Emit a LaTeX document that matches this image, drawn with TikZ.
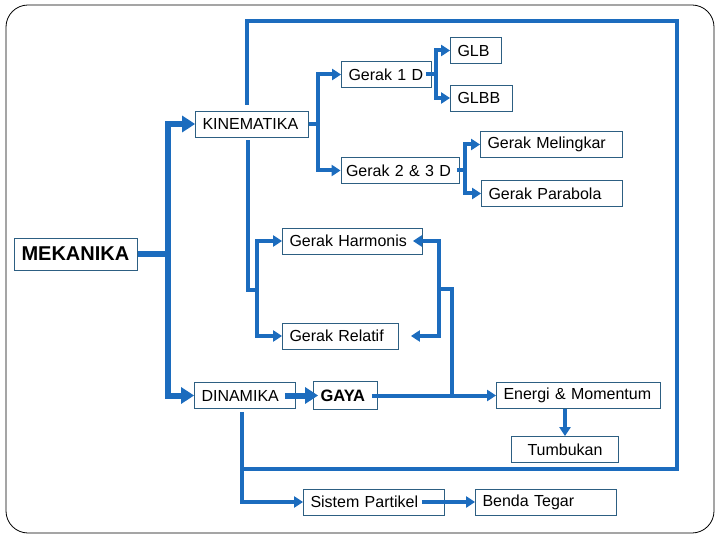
\documentclass[tikz,border=0pt]{standalone}
\usepackage{fontspec}
\setmainfont{Liberation Sans}
\usetikzlibrary{arrows.meta}
\definecolor{flow}{RGB}{28,108,190}
\definecolor{rim}{RGB}{45,95,130}
\def\boxh{26pt}

\begin{document}
\begin{tikzpicture}[x=1pt,y=-1pt]
    \tikzstyle{topic}=[draw=rim,fill=white,line width=0.8pt,minimum height=\boxh,inner xsep=7pt,inner ysep=0pt,align=left,font=\fontsize{16}{19}\selectfont]
    \tikzstyle{main topic}=[topic,font=\fontsize{20}{24}\selectfont\bfseries,minimum height=32pt]
    \tikzstyle{force topic}=[topic,font=\fontsize{16.5}{20}\selectfont\bfseries,minimum height=28pt]
    \tikzstyle{wire}=[draw=flow,line width=4pt]
    \tikzstyle{link}=[wire,-{Triangle[length=9pt,width=11pt]}]
    \tikzstyle{big wire}=[draw=flow,line width=6pt]
    \tikzstyle{big link}=[big wire,-{Triangle[length=13pt,width=16pt]}]

    \useasboundingbox (0,0) rectangle (720,540);
    \draw[rounded corners=22pt,line width=0.8pt] (6,5) rectangle (714,533);

    % Draw the topic boxes
    \node[main topic,text width=109pt] (MEK) at (76,254) {MEKANIKA};
    \node[topic,text width=99pt] (KIN) at (252,124) {KINEMATIKA};
    \node[topic,text width=76pt] (G1D) at (386.5,74.5) {Gerak 1 D};
    \node[topic,text width=37pt] (GLB) at (476,50.5) {GLB};
    \node[topic,text width=48pt] (GLBB) at (481.5,98) {GLBB};
    \node[topic,text width=108pt,inner xsep=5pt] (G23D) at (400,170.5) {Gerak 2 \& 3 D};
    \node[topic,text width=128pt] (GM) at (551.5,144.5) {Gerak Melingkar};
    \node[topic,text width=127pt] (GP) at (552,193.5) {Gerak Parabola};
    \node[topic,text width=126pt] (HAR) at (352.5,241) {Gerak Harmonis};
    \node[topic,text width=102pt] (REL) at (340.5,336) {Gerak Relatif};
    \node[topic,text width=87pt] (DIN) at (245,395.5) {DINAMIKA};
    \node[force topic,text width=50pt] (GAYA) at (345.5,395.5) {GAYA};
    \node[topic,text width=150pt] (EM) at (578.5,395.5) {Energi \& Momentum};
    \node[topic,text width=93pt,align=center] (TUM) at (565,449.5) {Tumbukan};
    \node[topic,text width=127pt] (SIS) at (374,502) {Sistem Partikel};
    \node[topic,text width=127pt] (BT) at (546,502) {Benda Tegar};

    % Junction points
    \coordinate (m) at (168,254);
    \coordinate (k) at (318,124);
    \coordinate (g) at (436,74.5);
    \coordinate (h) at (465,170.5);
    \coordinate (kb) at (248,290);
    \coordinate (kh) at (257,290);
    \coordinate (t) at (247,21);
    \coordinate (r) at (677,469);
    \coordinate (d) at (242,469);
    \coordinate (y) at (452,395.5);
    \coordinate (y2) at (439,289);

    % Mekanika splits into kinematika and dinamika
    \draw[big link] (MEK.east) -- (m) |- (KIN.west);
    \draw[big link] (m) |- (DIN.west);

    % Kinematika branches
    \draw[wire] (KIN.east) -- (k);
    \foreach \dest in {G1D,G23D}
        \draw[link] (k) |- (\dest.west);
    \draw[wire,shorten <=-6pt] (G1D.east) -- (g);
    \foreach \dest in {GLB,GLBB}
        \draw[link] (g) |- (\dest.west);
    \draw[wire,shorten <=-2pt] (G23D.east) -- (h);
    \foreach \dest in {GM,GP}
        \draw[link] (h) |- (\dest.west);

    \draw[wire,shorten <=3pt] (KIN.south -| kb) -- (kb) -- (kh);
    \foreach \dest in {HAR,REL}
        \draw[link] (kh) |- (\dest.west);

    % Outer loop from kinematika down to dinamika
    \draw[wire,shorten <=6pt] (KIN.north -| t) -- (t) -| (r) -- (d);

    % Dinamika branches
    \draw[link,shorten <=3pt] (DIN.south -| d) |- (SIS.west);
    \draw[big link,shorten <=-11pt,shorten >=-5pt] (DIN.east) -- (GAYA.west);
    \draw[link,shorten <=-6pt] (GAYA.east) -- (EM.west);
    \draw[wire] (y) -- (y |- y2) -- (y2);
    \draw[link,shorten >=-10pt] (y2) |- (HAR.east);
    \draw[link,shorten >=12pt] (y2) |- (REL.east);
    \draw[link] (EM.south -| TUM.north) -- (TUM.north);
    \draw[link,shorten <=-23pt] (SIS.east) -- (BT.west);
\end{tikzpicture}
\end{document}
